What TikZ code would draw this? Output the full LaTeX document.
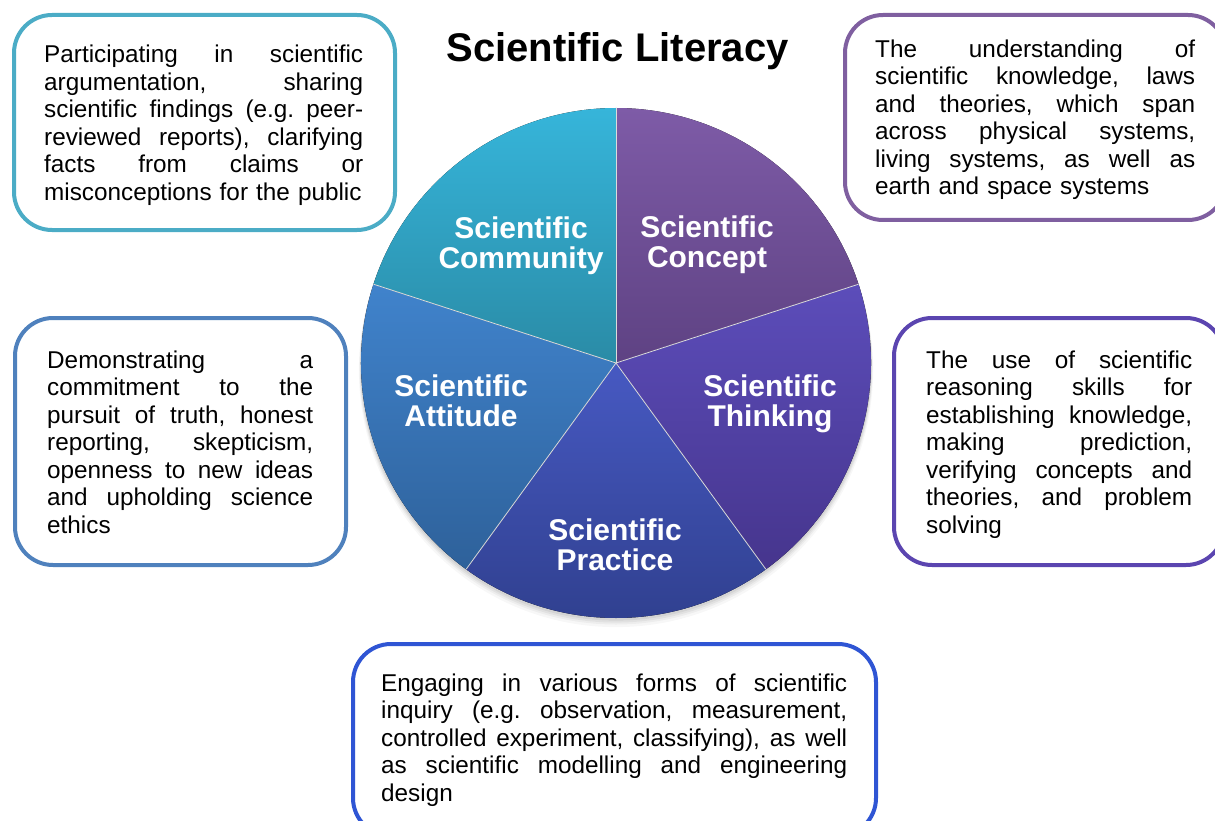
\documentclass[tikz,border=0pt]{standalone}
\usepackage{fontspec}
\setmainfont{Liberation Sans}
\usetikzlibrary{calc}
\frenchspacing
% width of the justified description lines
\newlength\bw
% one fully justified line of a description block
\newcommand\fullline[1]{\hbox to\bw{\spaceskip=0.278em plus 1fil\relax#1}}
% closing line, set at natural width
\newcommand\lastline[1]{\hbox{#1}}
\definecolor{aquaB}{HTML}{4BACC6}
\definecolor{purpB}{HTML}{7F5FA0}
\definecolor{blueB}{HTML}{4F81BD}
\definecolor{violB}{HTML}{5B45B0}
\definecolor{royalB}{HTML}{2F55D4}
\begin{document}
\begin{tikzpicture}[x=1pt,y=-1pt,
  frame/.style={draw, line width=4pt, rounded corners=38pt, fill=white, inner sep=0pt},
  body/.style={anchor=base west, inner sep=0pt, align=left, text=black, text width=#1,
    font=\fontsize{24.3}{27.5}\selectfont, execute at begin node={\setlength\bw{#1}}},
  seglabel/.style={anchor=base, inner sep=0pt, text width=200pt, align=center,
    text=white, font=\bfseries\fontsize{30}{30.5}\selectfont},
  sepline/.style={draw=white!72!gray, line width=0.8pt}
]
\useasboundingbox (0,0) rectangle (1215,821);

% ---- title
\node[anchor=base, inner sep=0pt, font=\bfseries\fontsize{40}{44}\selectfont] (title) at (617.5,62) {Scientific Literacy};

% ---- description frames
\node[frame, draw=aquaB, minimum width=381pt, minimum height=215pt] (tlbox) at (204.5,122.5) {};
\node[frame, draw=purpB, minimum width=381pt, minimum height=205pt] (trbox) at (1035.5,117.5) {};
\node[frame, draw=blueB, minimum width=331pt, minimum height=247pt] (lmbox) at (180.5,441.5) {};
\node[frame, draw=violB, minimum width=330pt, minimum height=247pt] (rmbox) at (1059,441.5) {};
\node[frame, draw=royalB, minimum width=523pt, minimum height=192pt] (bmbox) at (614.5,740) {};

% ---- description texts
\node[body=319pt] (tltext) at (44,63) {%
\fullline{Participating in scientific}
\fullline{argumentation, sharing}
\fullline{scientific findings (e.g. peer-}
\fullline{reviewed reports), clarifying}
\fullline{facts from claims or}
\lastline{misconceptions for the public}};

\node[body=320pt] (trtext) at (875,57.3) {%
\fullline{The understanding of}
\fullline{scientific knowledge, laws}
\fullline{and theories, which span}
\fullline{across physical systems,}
\fullline{living systems, as well as}
\lastline{earth and space systems}};

\node[body=266pt] (lmtext) at (47,368.3) {%
\fullline{Demonstrating a}
\fullline{commitment to the}
\fullline{pursuit of truth, honest}
\fullline{reporting, skepticism,}
\fullline{openness to new ideas}
\fullline{and upholding science}
\lastline{ethics}};

\node[body=266pt] (rmtext) at (926,368.3) {%
\fullline{The use of scientific}
\fullline{reasoning skills for}
\fullline{establishing knowledge,}
\fullline{making prediction,}
\fullline{verifying concepts and}
\fullline{theories, and problem}
\lastline{solving}};

\node[body=466pt] (bmtext) at (381,691.4) {%
\fullline{Engaging in various forms of scientific}
\fullline{inquiry (e.g. observation, measurement,}
\fullline{controlled experiment, classifying), as well}
\fullline{as scientific modelling and engineering}
\lastline{design}};

% ---- pie chart
\coordinate (pc) at (616,363);

% soft shadow under the pie
\foreach \d/\o in {7/0.03,5/0.04,3.5/0.05,2/0.06}{
  \fill[black, opacity=\o] ($(pc)+(0,\d)$) circle[radius=255pt+\d pt*0.3];
}

% five equal sectors
\fill[top color={rgb,255:red,126;green,91;blue,167}, bottom color={rgb,255:red,94;green,66;blue,131}]
  (pc) -- ++(90:255pt) arc[start angle=90, end angle=18, radius=255pt] -- cycle;
\fill[top color={rgb,255:red,92;green,77;blue,186}, bottom color={rgb,255:red,70;green,53;blue,141}]
  (pc) -- ++(18:255pt) arc[start angle=18, end angle=-54, radius=255pt] -- cycle;
\fill[top color={rgb,255:red,71;green,89;blue,194}, bottom color={rgb,255:red,47;green,63;blue,141}]
  (pc) -- ++(-54:255pt) arc[start angle=-54, end angle=-126, radius=255pt] -- cycle;
\fill[top color={rgb,255:red,64;green,131;blue,204}, bottom color={rgb,255:red,46;green,97;blue,154}]
  (pc) -- ++(-126:255pt) arc[start angle=-126, end angle=-198, radius=255pt] -- cycle;
\fill[top color={rgb,255:red,54;green,181;blue,218}, bottom color={rgb,255:red,42;green,139;blue,166}]
  (pc) -- ++(162:255pt) arc[start angle=162, end angle=90, radius=255pt] -- cycle;

% thin light seams between sectors
\foreach \a in {90,18,-54,-126,162}{
  \draw[sepline] (pc) -- ++(\a:255pt);
}

% sector labels
\node[seglabel] (community) at (521,238) {Scientific\\Community};
\node[seglabel] (concept) at (707,237) {Scientific\\Concept};
\node[seglabel] (thinking) at (770,396) {Scientific\\Thinking};
\node[seglabel] (attitude) at (461,396) {Scientific\\Attitude};
\node[seglabel] (practice) at (615,540) {Scientific\\Practice};
\end{tikzpicture}
\end{document}
